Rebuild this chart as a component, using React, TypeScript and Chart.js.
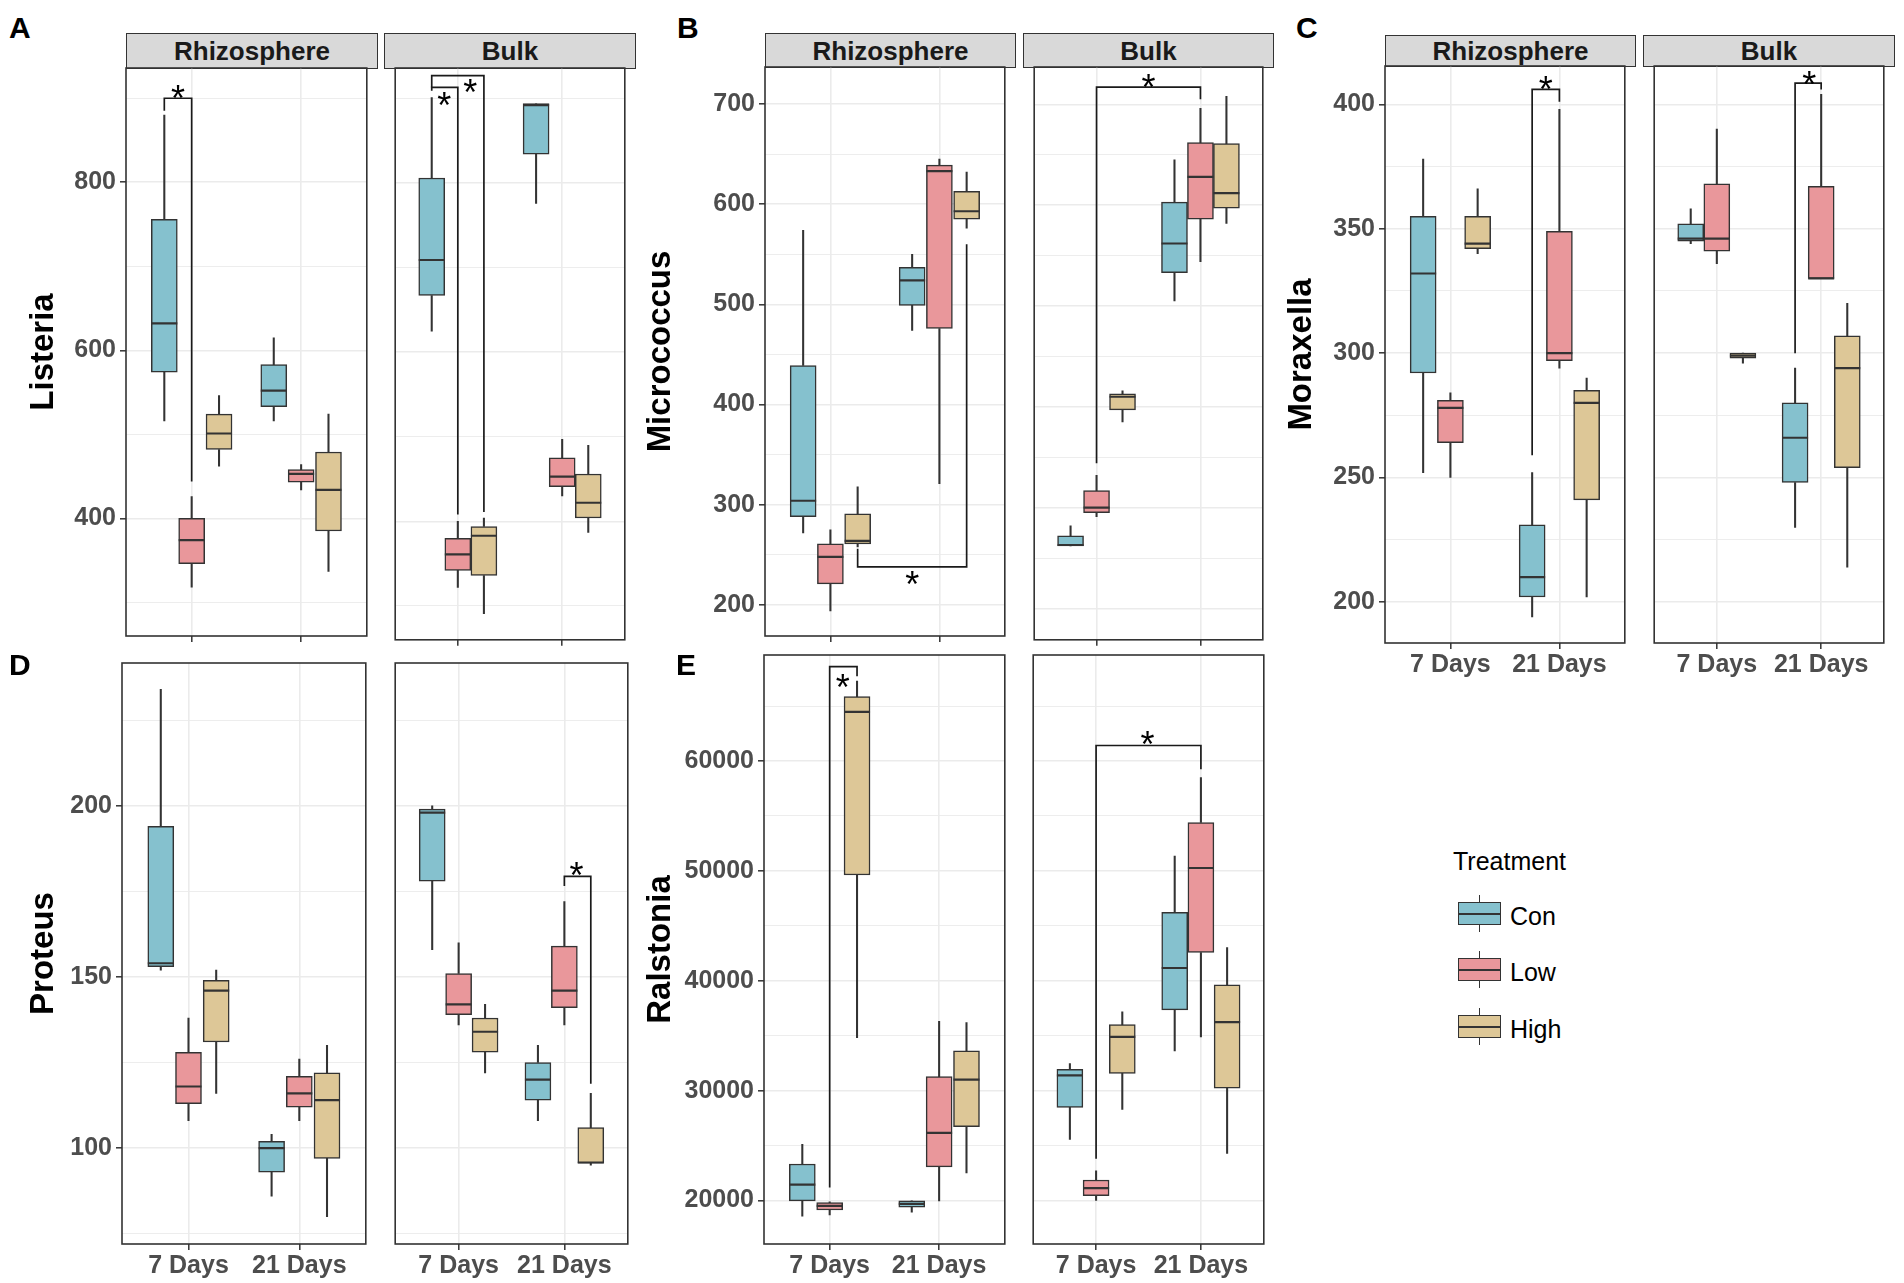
import React, { useEffect, useRef } from 'react';
import { Chart, registerables } from 'chart.js';

Chart.register(...registerables);

const FONT = '"Liberation Sans", Arial, Helvetica, sans-serif';

const CATEGORIES = ['7 Days', '21 Days'];
const TREATMENTS = ['Con', 'Low', 'High'];
const TREATMENT_COLORS = ['#85C1CE', '#E9979B', '#DDC797'];
const FACET_NAMES = ['Rhizosphere', 'Bulk'];
const DODGE = [-0.25, 0, 0.25];

// Each box: [min, Q1, median, Q3, max]; first entry 7 Days, second 21 Days
// ---- A: Listeria
const LISTERIA_RHIZO_CON = [[516, 574, 632, 756, 880], [516, 533, 552, 583, 615]];
const LISTERIA_RHIZO_LOW = [[318, 346, 374, 400, 426], [434, 443, 453, 458, 464]];
const LISTERIA_RHIZO_HIGH = [[462, 482, 501, 524, 546], [337, 385, 434, 479, 524]];
const LISTERIA_BULK_CON = [[625, 667, 709, 806, 901], [776, 834, 892, 894, 894]];
const LISTERIA_BULK_LOW = [[322, 342, 361, 380, 400], [430, 441, 453, 475, 497]];
const LISTERIA_BULK_HIGH = [[291, 336, 383, 394, 404], [387, 404, 422, 456, 490]];
const LISTERIA_MAJOR = [400, 600, 800];
const LISTERIA_MINOR = [300, 500, 700, 900];
// brackets: [xStart, xEnd, yBar, yStartEnd, yEndEnd]; stars: [x, y]
const LISTERIA_RHIZO_SIG = [[0.75, 1.0, 900, 885, 444]];
const LISTERIA_RHIZO_STARS = [[0.875, 909]];
const LISTERIA_BULK_SIG = [[0.75, 1.0, 913, 909, 408], [0.75, 1.25, 927, 913, 411]];
const LISTERIA_BULK_STARS = [[0.87, 901], [1.12, 917]];

// ---- B: Micrococcus
const MICRO_RHIZO_CON = [[272, 288, 304, 439, 574], [474, 499, 524, 537, 550]];
const MICRO_RHIZO_LOW = [[194, 221, 248, 261, 275], [321, 476, 633, 639, 645]];
const MICRO_RHIZO_HIGH = [[258, 261, 264, 291, 318], [576, 585, 593, 613, 632]];
const MICRO_BULK_CON = [[262, 262, 263, 272, 282], [505, 533, 562, 603, 645]];
const MICRO_BULK_LOW = [[291, 295, 300, 317, 332], [544, 586, 628, 662, 696]];
const MICRO_BULK_HIGH = [[385, 397, 410, 413, 416], [582, 597, 612, 661, 708]];
const MICRO_MAJOR = [200, 300, 400, 500, 600, 700];
const MICRO_MINOR = [250, 350, 450, 550, 650];
const MICRO_RHIZO_SIG = [[1.25, 2.25, 238, 256, 560]];
const MICRO_RHIZO_STARS = [[1.75, 228]];
const MICRO_BULK_SIG = [[1.0, 2.0, 717, 344, 705]];
const MICRO_BULK_STARS = [[1.5, 725]];

// ---- C: Moraxella
const MORAX_RHIZO_CON = [[252, 292, 332, 355, 378], [194, 202, 210, 231, 252]];
const MORAX_RHIZO_LOW = [[250, 264, 278, 281, 284], [294, 297, 300, 349, 398]];
const MORAX_RHIZO_HIGH = [[340, 342, 344, 355, 366], [202, 241, 280, 285, 290]];
const MORAX_BULK_CON = [[344, 345, 346, 352, 358], [230, 248, 266, 280, 294]];
const MORAX_BULK_LOW = [[336, 341, 346, 368, 390], [330, 330, 330, 367, 404]];
const MORAX_BULK_HIGH = [[296, 298, 299, 300, 300], [214, 254, 294, 307, 320]];
const MORAX_MAJOR = [200, 250, 300, 350, 400];
const MORAX_MINOR = [225, 275, 325, 375];
const MORAX_RHIZO_SIG = [[1.75, 2.0, 406, 259, 401]];
const MORAX_RHIZO_STARS = [[1.875, 409]];
const MORAX_BULK_SIG = [[1.75, 2.0, 408.5, 300, 406]];
const MORAX_BULK_STARS = [[1.885, 411]];

// ---- D: Proteus
const PROTEUS_RHIZO_CON = [[152, 153, 154, 194, 234], [86, 93, 100, 102, 104]];
const PROTEUS_RHIZO_LOW = [[108, 113, 118, 128, 138], [108, 112, 116, 121, 126]];
const PROTEUS_RHIZO_HIGH = [[116, 131, 146, 149, 152], [80, 97, 114, 122, 130]];
const PROTEUS_BULK_CON = [[158, 178, 198, 199, 200], [108, 114, 120, 125, 130]];
const PROTEUS_BULK_LOW = [[136, 139, 142, 151, 160], [136, 141, 146, 159, 172]];
const PROTEUS_BULK_HIGH = [[122, 128, 134, 138, 142], [95, 95.6, 95.8, 106, 116]];
const PROTEUS_MAJOR = [100, 150, 200];
const PROTEUS_MINOR = [75, 125, 175, 225];
const PROTEUS_RHIZO_SIG: number[][] = [];
const PROTEUS_RHIZO_STARS: number[][] = [];
const PROTEUS_BULK_SIG = [[2.0, 2.25, 179.4, 176.6, 118.8]];
const PROTEUS_BULK_STARS = [[2.115, 182]];

// ---- E: Ralstonia
const RALS_RHIZO_CON = [[18580, 19960, 21450, 23320, 25110], [18950, 19400, 19700, 19960, 19960]];
const RALS_RHIZO_LOW = [[18690, 19140, 19510, 19810, 19890], [19960, 23060, 26160, 31270, 36300]];
const RALS_RHIZO_HIGH = [[34810, 49620, 64470, 65850, 67270], [22500, 26720, 31010, 33620, 36190]];
const RALS_BULK_CON = [[25560, 28470, 31380, 31940, 32460], [33620, 37350, 41160, 46230, 51340]];
const RALS_BULK_LOW = [[20000, 20450, 21120, 21870, 22690], [34890, 42570, 50260, 54400, 58500]];
const RALS_BULK_HIGH = [[28280, 31570, 34890, 36010, 37160], [24290, 30220, 36230, 39630, 43020]];
const RALS_MAJOR = [20000, 30000, 40000, 50000, 60000];
const RALS_MINOR = [25000, 35000, 45000, 55000, 65000];
const RALS_RHIZO_SIG = [[1.0, 1.25, 68580, 21190, 67720]];
const RALS_RHIZO_STARS = [[1.12, 67460]];
const RALS_BULK_SIG = [[1.0, 2.0, 61410, 23810, 59250]];
const RALS_BULK_STARS = [[1.49, 62240]];

type Rect = { x: number; y: number; w: number; h: number };

interface FacetProps {
  rect: Rect;
  axisW: number;
  yTitle?: string;
  yTitlePad?: number;
  yMin: number;
  yMax: number;
  majors: number[];
  minors: number[];
  xLabels: boolean;
  boxes: number[][][];
  brackets: number[][];
  stars: number[][];
}

function Facet(props: FacetProps) {
  const ref = useRef<HTMLCanvasElement>(null);
  const { rect, axisW, xLabels } = props;
  const padTop = 24;
  const padL = axisW ? 0 : 4;
  const padR = 4;
  const xAxisH = xLabels ? 46 : 10;
  const padB = 2;
  const cw = padL + axisW + rect.w + padR;
  const ch = padTop + rect.h + xAxisH + padB;

  useEffect(() => {
    const boxW = 26;
    const datasets: any[] = [];
    props.boxes.forEach((tBoxes, t) => {
      const xs = tBoxes.map((_, c) => c + 1 + DODGE[t]);
      datasets.push({
        type: 'bar',
        order: 3,
        data: tBoxes.flatMap((b, c) => [
          { x: xs[c], y: [b[0], b[1]] },
          { x: xs[c], y: [b[3], b[4]] },
        ]),
        backgroundColor: '#333333',
        borderWidth: 0,
        barThickness: 1.4,
        grouped: false,
      });
      datasets.push({
        type: 'bar',
        order: 2,
        data: tBoxes.map((b, c) => ({ x: xs[c], y: [b[1], b[3]] })),
        backgroundColor: TREATMENT_COLORS[t],
        borderColor: '#333333',
        borderWidth: 1.5,
        borderSkipped: false,
        barThickness: boxW,
        grouped: false,
      });
      datasets.push({
        type: 'scatter',
        order: 1,
        data: tBoxes.map((b, c) => ({ x: xs[c], y: b[2] })),
        pointStyle: 'line',
        pointRadius: boxW / 2,
        pointBorderWidth: 2.2,
        pointBorderColor: '#333333',
        pointBackgroundColor: '#333333',
        showLine: false,
      });
    });
    props.brackets.forEach((br) => {
      datasets.push({
        type: 'line',
        order: 0,
        data: [
          { x: br[0], y: br[3] },
          { x: br[0], y: br[2] },
          { x: br[1], y: br[2] },
          { x: br[1], y: br[4] },
        ],
        borderColor: '#1a1a1a',
        borderWidth: 1.7,
        pointRadius: 0,
        fill: false,
        tension: 0,
      });
    });

    const decor = {
      id: 'facetDecor',
      afterDatasetsDraw(chart: any) {
        const { ctx, scales } = chart;
        const fs = 36;
        ctx.save();
        ctx.fillStyle = '#000000';
        ctx.font = `${fs}px ${FONT}`;
        ctx.textAlign = 'center';
        ctx.textBaseline = 'alphabetic';
        props.stars.forEach(([x, y]) => {
          ctx.fillText('*', scales.x.getPixelForValue(x), scales.y.getPixelForValue(y) + 0.57 * fs);
        });
        ctx.restore();
      },
      afterDraw(chart: any) {
        const { ctx, chartArea } = chart;
        ctx.save();
        ctx.strokeStyle = '#333333';
        ctx.lineWidth = 1.6;
        ctx.strokeRect(chartArea.left, chartArea.top, chartArea.right - chartArea.left, chartArea.bottom - chartArea.top);
        ctx.restore();
      },
    };

    const tickFont = { family: FONT, size: 25, weight: 'bold' as const };

    const chart = new Chart(ref.current as HTMLCanvasElement, {
      type: 'bar',
      data: { datasets },
      options: {
        responsive: false,
        animation: false,
        events: [],
        layout: { padding: { left: padL, right: padR, top: padTop, bottom: padB } },
        plugins: { legend: { display: false }, tooltip: { enabled: false } },
        scales: {
          x: {
            type: 'linear',
            min: 0.4,
            max: 2.6,
            bounds: 'data',
            offset: false,
            afterBuildTicks: (s: any) => {
              s.ticks = CATEGORIES.map((_, i) => ({ value: i + 1 }));
            },
            afterFit: (s: any) => {
              s.height = xAxisH;
            },
            ticks: {
              display: xLabels,
              autoSkip: false,
              maxRotation: 0,
              color: '#4D4D4D',
              font: tickFont,
              padding: 1,
              callback: (v: any) => CATEGORIES[Math.round(Number(v)) - 1] ?? '',
            },
            grid: {
              offset: false,
              color: '#EBEBEB',
              lineWidth: 1.6,
              drawTicks: true,
              tickLength: 6,
              tickColor: '#333333',
              tickWidth: 1.5,
            },
            border: { display: false },
          },
          y: {
            type: 'linear',
            min: props.yMin,
            max: props.yMax,
            bounds: 'data',
            afterBuildTicks: (s: any) => {
              s.ticks = [
                ...props.majors.map((v) => ({ value: v, major: true })),
                ...props.minors.map((v) => ({ value: v, major: false })),
              ].sort((a, b) => a.value - b.value);
            },
            afterFit: (s: any) => {
              s.width = axisW;
            },
            ticks: {
              display: axisW > 0,
              autoSkip: false,
              color: '#4D4D4D',
              font: tickFont,
              padding: 4,
              callback: (v: any, i: number, ticks: any[]) => (ticks[i] && ticks[i].major ? String(v) : ''),
            },
            grid: {
              offset: false,
              color: '#EBEBEB',
              lineWidth: (ctx: any) => (ctx.tick && ctx.tick.major ? 1.6 : 0.9),
              drawTicks: axisW > 0,
              tickLength: 6,
              tickColor: (ctx: any) => (ctx.tick && ctx.tick.major ? '#333333' : 'rgba(0,0,0,0)'),
              tickWidth: 1.5,
            },
            border: { display: false },
            title: {
              display: !!props.yTitle,
              text: props.yTitle || '',
              color: '#000000',
              font: { family: FONT, size: 33, weight: 'bold' },
              padding: { top: props.yTitlePad || 0, bottom: 0 },
            },
          },
        },
      } as any,
      plugins: [decor],
    });
    return () => chart.destroy();
  }, []);

  return (
    <canvas
      ref={ref}
      width={cw}
      height={ch}
      style={{ position: 'absolute', left: rect.x - axisW - padL, top: rect.y - padTop, width: cw, height: ch }}
    />
  );
}

function Strip({ rect, top, label }: { rect: Rect; top: number; label: string }) {
  const h = rect.y - top + 1;
  return (
    <div
      style={{
        position: 'absolute',
        left: rect.x,
        top,
        width: rect.w,
        height: h,
        boxSizing: 'border-box',
        background: '#D9D9D9',
        border: '1.5px solid #333333',
        display: 'flex',
        alignItems: 'center',
        justifyContent: 'center',
        fontFamily: FONT,
        fontWeight: 'bold',
        fontSize: 26,
        color: '#1A1A1A',
        lineHeight: 1,
      }}
    >
      {label}
    </div>
  );
}

function Letter({ x, y, text }: { x: number; y: number; text: string }) {
  return (
    <div style={{ position: 'absolute', left: x, top: y, fontFamily: FONT, fontWeight: 'bold', fontSize: 30, lineHeight: 1, color: '#000' }}>
      {text}
    </div>
  );
}

interface PanelDef {
  letter: string;
  letterPos: [number, number];
  rects: Rect[];
  axisW: number;
  yTitle: string;
  yTitlePad: number;
  yMin: number;
  yMax: number;
  majors: number[];
  minors: number[];
  stripTop: number | null;
  xLabels: boolean;
  boxes: number[][][][];
  brackets: number[][][];
  stars: number[][][];
}

const PANELS: PanelDef[] = [
  {
    letter: 'A', letterPos: [9, 13],
    rects: [{ x: 126, y: 68, w: 252, h: 575 }, { x: 384, y: 68, w: 252, h: 575 }],
    axisW: 126, yTitle: 'Listeria', yTitlePad: 24, yMin: 260, yMax: 936,
    majors: LISTERIA_MAJOR, minors: LISTERIA_MINOR, stripTop: 33, xLabels: false,
    boxes: [[LISTERIA_RHIZO_CON, LISTERIA_RHIZO_LOW, LISTERIA_RHIZO_HIGH], [LISTERIA_BULK_CON, LISTERIA_BULK_LOW, LISTERIA_BULK_HIGH]],
    brackets: [LISTERIA_RHIZO_SIG, LISTERIA_BULK_SIG], stars: [LISTERIA_RHIZO_STARS, LISTERIA_BULK_STARS],
  },
  {
    letter: 'B', letterPos: [677, 13],
    rects: [{ x: 765, y: 67, w: 251, h: 576 }, { x: 1023, y: 67, w: 251, h: 576 }],
    axisW: 125, yTitle: 'Micrococcus', yTitlePad: 1, yMin: 169, yMax: 737,
    majors: MICRO_MAJOR, minors: MICRO_MINOR, stripTop: 33, xLabels: false,
    boxes: [[MICRO_RHIZO_CON, MICRO_RHIZO_LOW, MICRO_RHIZO_HIGH], [MICRO_BULK_CON, MICRO_BULK_LOW, MICRO_BULK_HIGH]],
    brackets: [MICRO_RHIZO_SIG, MICRO_BULK_SIG], stars: [MICRO_RHIZO_STARS, MICRO_BULK_STARS],
  },
  {
    letter: 'C', letterPos: [1296, 13],
    rects: [{ x: 1385, y: 66, w: 251, h: 577 }, { x: 1643, y: 66, w: 252, h: 577 }],
    axisW: 105, yTitle: 'Moraxella', yTitlePad: 2, yMin: 183.5, yMax: 415.4,
    majors: MORAX_MAJOR, minors: MORAX_MINOR, stripTop: 35, xLabels: true,
    boxes: [[MORAX_RHIZO_CON, MORAX_RHIZO_LOW, MORAX_RHIZO_HIGH], [MORAX_BULK_CON, MORAX_BULK_LOW, MORAX_BULK_HIGH]],
    brackets: [MORAX_RHIZO_SIG, MORAX_BULK_SIG], stars: [MORAX_RHIZO_STARS, MORAX_BULK_STARS],
  },
  {
    letter: 'D', letterPos: [9, 650],
    rects: [{ x: 122, y: 663, w: 255, h: 581 }, { x: 384, y: 663, w: 255, h: 581 }],
    axisW: 122, yTitle: 'Proteus', yTitlePad: 24, yMin: 72, yMax: 241.7,
    majors: PROTEUS_MAJOR, minors: PROTEUS_MINOR, stripTop: null, xLabels: true,
    boxes: [[PROTEUS_RHIZO_CON, PROTEUS_RHIZO_LOW, PROTEUS_RHIZO_HIGH], [PROTEUS_BULK_CON, PROTEUS_BULK_LOW, PROTEUS_BULK_HIGH]],
    brackets: [PROTEUS_RHIZO_SIG, PROTEUS_BULK_SIG], stars: [PROTEUS_RHIZO_STARS, PROTEUS_BULK_STARS],
  },
  {
    letter: 'E', letterPos: [676, 650],
    rects: [{ x: 764, y: 655, w: 252, h: 589 }, { x: 1022, y: 655, w: 253, h: 589 }],
    axisW: 124, yTitle: 'Ralstonia', yTitlePad: 1, yMin: 16042, yMax: 69645,
    majors: RALS_MAJOR, minors: RALS_MINOR, stripTop: null, xLabels: true,
    boxes: [[RALS_RHIZO_CON, RALS_RHIZO_LOW, RALS_RHIZO_HIGH], [RALS_BULK_CON, RALS_BULK_LOW, RALS_BULK_HIGH]],
    brackets: [RALS_RHIZO_SIG, RALS_BULK_SIG], stars: [RALS_RHIZO_STARS, RALS_BULK_STARS],
  },
];

function LegendKey({ top, color, label }: { top: number; color: string; label: string }) {
  return (
    <>
      <div style={{ position: 'absolute', left: 1478.8, top: top - 7, width: 1.5, height: 37, background: '#333333' }} />
      <div style={{ position: 'absolute', left: 1458, top, width: 43, height: 23, background: color, border: '1.5px solid #333333', boxSizing: 'border-box' }} />
      <div style={{ position: 'absolute', left: 1458, top: top + 10.5, width: 43, height: 2, background: '#333333' }} />
      <div style={{ position: 'absolute', left: 1510, top: top + 2, fontFamily: FONT, fontSize: 25, lineHeight: 1, color: '#000' }}>{label}</div>
    </>
  );
}

export default function App() {
  return (
    <div style={{ position: 'absolute', left: 0, top: 0, width: 1904, height: 1283, background: '#FFFFFF', overflow: 'hidden' }}>
      {PANELS.map((p) => (
        <React.Fragment key={p.letter}>
          <Letter x={p.letterPos[0]} y={p.letterPos[1]} text={p.letter} />
          {p.stripTop !== null &&
            p.rects.map((r, i) => <Strip key={'s' + i} rect={r} top={p.stripTop as number} label={FACET_NAMES[i]} />)}
          {p.rects.map((r, i) => (
            <Facet
              key={'f' + i}
              rect={r}
              axisW={i === 0 ? p.axisW : 0}
              yTitle={i === 0 ? p.yTitle : undefined}
              yTitlePad={p.yTitlePad}
              yMin={p.yMin}
              yMax={p.yMax}
              majors={p.majors}
              minors={p.minors}
              xLabels={p.xLabels}
              boxes={p.boxes[i]}
              brackets={p.brackets[i]}
              stars={p.stars[i]}
            />
          ))}
        </React.Fragment>
      ))}
      <div style={{ position: 'absolute', left: 1453, top: 849, fontFamily: FONT, fontSize: 25, lineHeight: 1, color: '#000' }}>Treatment</div>
      {TREATMENTS.map((t, i) => (
        <LegendKey key={t} top={[902, 958, 1015][i]} color={TREATMENT_COLORS[i]} label={t} />
      ))}
    </div>
  );
}
